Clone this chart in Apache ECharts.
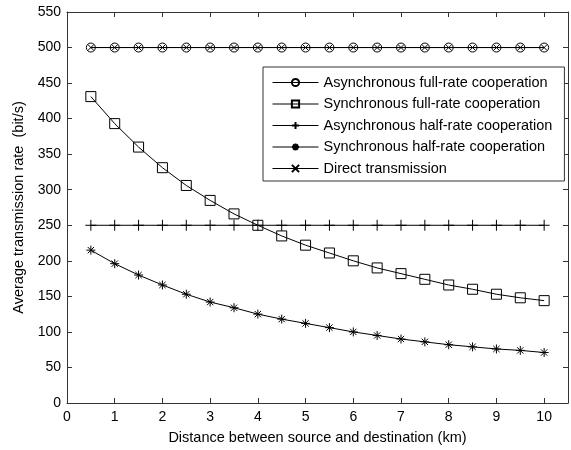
<!DOCTYPE html>
<html>
<head>
<meta charset="utf-8">
<script src="https://cdn.jsdelivr.net/npm/echarts@6/dist/echarts.min.js"></script>
<style>
html, body { margin: 0; padding: 0; background: #fff; }
#chart { width: 571px; height: 450px; }
</style>
</head>
<body>
<div id="chart"></div>
<script>
// distances (km)
var distance = [0.5, 1, 1.5, 2, 2.5, 3, 3.5, 4, 4.5, 5, 5.5, 6, 6.5, 7, 7.5, 8, 8.5, 9, 9.5, 10];
// rates (bit/s)
var asyncFull = [500, 500, 500, 500, 500, 500, 500, 500, 500, 500, 500, 500, 500, 500, 500, 500, 500, 500, 500, 500];
var syncFull = [431, 393, 360, 331, 306, 285, 266, 250, 235, 222, 211, 200, 190, 182, 174, 166, 160, 153, 148, 144];
var asyncHalf = [250, 250, 250, 250, 250, 250, 250, 250, 250, 250, 250, 250, 250, 250, 250, 250, 250, 250, 250, 250];
var syncHalf = [215, 196, 180, 166, 153, 142, 134, 125, 118, 112, 106, 100, 95, 90, 86, 82, 79, 76, 74, 71];
var direct = [500, 500, 500, 500, 500, 500, 500, 500, 500, 500, 500, 500, 500, 500, 500, 500, 500, 500, 500, 500];
var seriesNames = [
	'Asynchronous full-rate cooperation',
	'Synchronous full-rate cooperation',
	'Asynchronous half-rate cooperation',
	'Synchronous half-rate cooperation',
	'Direct transmission'
];

var font = "'Liberation Sans', Arial, sans-serif";
var myChart = echarts.init(document.getElementById('chart'));

function pairs(ys) {
	var out = [];
	for (var i = 0; i < distance.length; i++) {
		out.push([distance[i], ys[i]]);
	}
	return out;
}

function makeSeries(name, ys, symbol, size, z) {
	return {
		name: name,
		type: 'line',
		data: pairs(ys),
		symbol: symbol,
		symbolSize: size,
		showAllSymbol: true,
		z: z,
		lineStyle: { color: '#000', width: 1 },
		itemStyle: { color: 'rgba(0,0,0,0)', borderColor: '#000', borderWidth: 1 },
		emphasis: { disabled: true },
		animation: false
	};
}

var axisBase = {
	axisLine: { show: true, onZero: false, lineStyle: { color: '#333', width: 1 } },
	axisTick: { show: true, inside: true, length: 5, lineStyle: { color: '#333' } },
	splitLine: { show: false }
};

option = {
	backgroundColor: '#fff',
	textStyle: { fontFamily: font },
	grid: { left: 67, right: 2, top: 12, bottom: 46 },
	legend: {
		orient: 'vertical',
		left: 263,
		top: 67,
		padding: [8, 12, 5, 9],
		itemWidth: 46,
		itemHeight: 9,
		itemGap: 6.5,
		backgroundColor: '#fff',
		borderColor: '#333',
		borderWidth: 1,
		lineStyle: { width: 1 },
		textStyle: { color: '#000', fontSize: 14.5, fontFamily: font },
		data: seriesNames
	},
	xAxis: [Object.assign({
		type: 'value',
		min: 0,
		max: 10.5,
		interval: 1,
		name: 'Distance between source and destination (km)',
		nameLocation: 'middle',
		nameGap: 27,
		nameTextStyle: { color: '#000', fontSize: 14.5 },
		axisLabel: {
			color: '#000',
			fontSize: 14,
			margin: 7,
			formatter: function (v) { return v % 1 === 0 ? String(v) : ''; }
		}
	}, axisBase), Object.assign({
		type: 'value',
		position: 'top',
		min: 0,
		max: 10.5,
		interval: 1,
		axisLabel: { show: false }
	}, axisBase)],
	yAxis: [Object.assign({
		type: 'value',
		min: 0,
		max: 550,
		interval: 50,
		name: 'Average transmission rate  (bit/s)',
		nameLocation: 'middle',
		nameGap: 37,
		nameTextStyle: { color: '#000', fontSize: 14.5 },
		axisLabel: { color: '#000', fontSize: 14, margin: 6 }
	}, axisBase), Object.assign({
		type: 'value',
		position: 'right',
		min: 0,
		max: 550,
		interval: 50,
		axisLabel: { show: false }
	}, axisBase)],
	series: [
		makeSeries(seriesNames[0], asyncFull, 'circle', 9, 3),
		makeSeries(seriesNames[1], syncFull, 'path://M0,0L10,0L10,10L0,10Z', 10, 3),
		makeSeries(seriesNames[2], asyncHalf, 'path://M5,0L5,10M0,5L10,5', 11, 3),
		makeSeries(seriesNames[3], syncHalf, 'path://M5,0L5,10M0,5L10,5M1.5,1.5L8.5,8.5M8.5,1.5L1.5,8.5', 9, 3),
		makeSeries(seriesNames[4], direct, 'path://M0,0L10,10M10,0L0,10', 6, 4)
	]
};
myChart.setOption(option);
</script>
</body>
</html>
